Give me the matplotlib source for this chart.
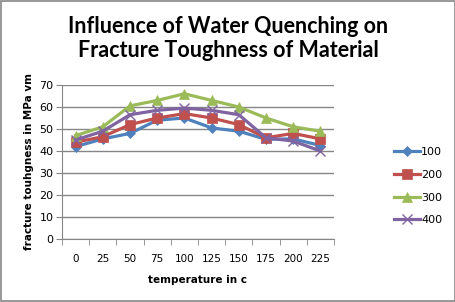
import numpy as np
import matplotlib
matplotlib.use("Agg")
import matplotlib.pyplot as plt

# data
temperatures = ["0", "25", "50", "75", "100", "125", "150", "175", "200", "225"]
series_names = ["100", "200", "300", "400"]
s100 = [42, 45.5, 48, 54, 55, 50.5, 49, 45.3, 45.5, 42.5]
s200 = [44, 46.5, 52, 55, 57, 55, 52, 46, 48, 45.5]
s300 = [47, 51, 60.5, 63, 66, 63, 60, 55, 51, 49]
s400 = [45, 49, 56.5, 58.5, 59.5, 58.5, 56.5, 46, 44.5, 40]

colors = ["#4F81BD", "#C0504D", "#9BBB59", "#8064A2"]
markers = ["D", "s", "^", "x"]
msizes = [5, 7, 7, 7]

fig = plt.figure(figsize=(4.56, 3.02), dpi=100)
fig.patch.set_facecolor("white")
ax = fig.add_axes([62 / 456, 63 / 302, 272 / 456, 154 / 302])

x = np.arange(len(temperatures))
for vals, name, c, m, ms in zip([s100, s200, s300, s400], series_names, colors, markers, msizes):
    ax.plot(x, vals, color=c, marker=m, markersize=ms, linewidth=2.3,
            markeredgewidth=1.0 if m == "x" else 0.5, label=name)

ax.set_ylim(0, 70)
ax.set_yticks(np.arange(0, 71, 10))
ax.set_xlim(-0.5, len(temperatures) - 0.5)
ax.set_xticks(x)
ax.set_xticklabels(temperatures)
ax.set_xticks(np.arange(-0.5, len(temperatures), 1), minor=True)
ax.tick_params(axis="x", which="major", length=0, pad=11, labelsize=7.5)
ax.tick_params(axis="x", which="minor", length=4, color="#868686", direction="out")
ax.tick_params(axis="y", length=4, color="#868686", labelsize=8, pad=2)

ax.grid(axis="y", color="#868686", linewidth=1)
ax.set_axisbelow(True)
for side in ["top", "right"]:
    ax.spines[side].set_visible(False)
for side in ["left", "bottom"]:
    ax.spines[side].set_color("#868686")

ax.set_xlabel("temperature in c", fontsize=7.5, fontweight="bold", labelpad=8)
ax.set_ylabel("fracture touhgness in MPa vm", fontsize=7.5, fontweight="bold", labelpad=4)

fig.suptitle("Influence of Water Quenching on\nFracture Toughness of Material",
             fontsize=15.5, fontweight="bold", family="Lato", y=0.948, linespacing=1.2)

leg = fig.legend(loc="upper left", bbox_to_anchor=(384 / 456, 1 - 137 / 302),
                 frameon=False, fontsize=8, handlelength=2.3, labelspacing=1.15,
                 handletextpad=0.15)

# outer chart border
fig.add_artist(plt.Rectangle((0.002, 0.003), 0.995, 0.994, transform=fig.transFigure,
                             fill=False, edgecolor="#868686", linewidth=1.2))

fig.savefig("out.png", dpi=100)
